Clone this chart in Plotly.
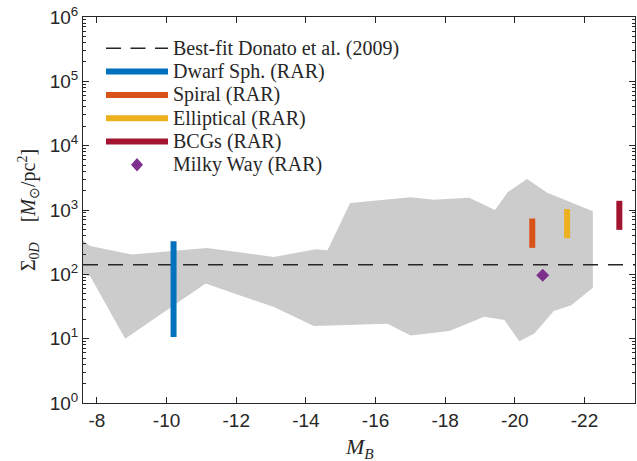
import plotly.graph_objects as go

# Observed central surface density band (upper edge left->right, lower edge right->left)
band_mb_upper = [-7.60, -7.80, -9.00, -11.16, -13.08, -14.28, -14.62, -15.27, -17.01,
                 -17.68, -18.69, -19.43, -19.80, -20.35, -20.93, -22.24]
band_sigma_upper = [339, 275, 204, 257, 186, 245, 237, 1288, 1585,
                    1445, 1549, 1000, 1905, 3020, 1862, 955]
band_mb_lower = [-22.24, -21.62, -21.12, -20.56, -20.13, -19.70, -19.12, -18.12,
                 -17.01, -16.34, -14.23, -13.08, -11.12, -8.81, -7.80, -7.60]
band_sigma_lower = [62, 33, 27, 12, 9.1, 19.5, 21.9, 13.2,
                    11.2, 17, 15.8, 31, 72, 10, 95, 98]

# Best-fit constant surface density (Donato et al. 2009), log10 = 2.15
donato_sigma = 141

# RAR predictions per galaxy type
rar_labels = ["Dwarf Sph. (RAR)", "Spiral (RAR)", "Elliptical (RAR)", "BCGs (RAR)"]
rar_mb = [-10.2, -20.5, -21.5, -23.0]
rar_sigma_low = [10.6, 258, 365, 491]
rar_sigma_high = [327, 738, 1033, 1390]
rar_colors = ["#0072BD", "#D95319", "#EDB120", "#A2142F"]

mw_label = "Milky Way (RAR)"
mw_mb = -20.8
mw_sigma = 97
mw_color = "#7E2F8E"

donato_label = "Best-fit Donato et al. (2009)"

x_ticks = [-8, -10, -12, -14, -16, -18, -20, -22]
y_exponents = [0, 1, 2, 3, 4, 5, 6]
x_range = [-7.6, -23.45]

AX = "#262626"
TICK_FONT = dict(family="Liberation Sans", size=19, color=AX)
SERIF = "Liberation Serif"

# figure geometry
W, H = 637, 461
ML, MR, MT, MB = 83, 2, 17, 58

fig = go.Figure()

# grey band
fig.add_trace(go.Scatter(
    x=band_mb_upper + band_mb_lower,
    y=band_sigma_upper + band_sigma_lower,
    fill="toself", fillcolor="#CCCCCC", mode="lines",
    line=dict(width=0, color="#CCCCCC"), hoverinfo="skip", showlegend=False,
))

# Donato et al. best fit
fig.add_trace(go.Scatter(
    x=x_range, y=[donato_sigma, donato_sigma], mode="lines",
    line=dict(color="#262626", width=1.5, dash="15px,10px"),
    showlegend=False, name=donato_label,
))

# RAR ranges as vertical bars
for lab, xm, lo, hi, col in zip(rar_labels, rar_mb, rar_sigma_low, rar_sigma_high, rar_colors):
    fig.add_trace(go.Scatter(
        x=[xm, xm], y=[lo, hi], mode="lines",
        line=dict(color=col, width=6), showlegend=False, name=lab,
    ))

# Milky Way
fig.add_trace(go.Scatter(
    x=[mw_mb], y=[mw_sigma], mode="markers",
    marker=dict(symbol="diamond", size=10, color=mw_color, line=dict(width=0)),
    showlegend=False, name=mw_label,
))

# ---- legend and x-axis title (placed in figure pixel space) ----
PW, PH = W - ML - MR, H - MT - MB


def px(xp):
    return (xp - ML) / PW


def py(yp):
    return (H - MB - yp) / PH


leg_x0, leg_x1, leg_text_x = 106, 168, 171
leg_y0, leg_dy = 48.3, 23.3

shapes = []
annotations = []
entries = [(donato_label, "#262626", "dash")] + \
          [(lab, col, "bar") for lab, col in zip(rar_labels, rar_colors)] + \
          [(mw_label, mw_color, "diamond")]

for i, (lab, col, kind) in enumerate(entries):
    yy = leg_y0 + i * leg_dy
    if kind == "dash":
        shapes.append(dict(type="line", xref="paper", yref="paper",
                           x0=px(leg_x0), x1=px(leg_x1), y0=py(yy), y1=py(yy),
                           line=dict(color=col, width=1.5, dash="15px,9.5px")))
    elif kind == "bar":
        shapes.append(dict(type="line", xref="paper", yref="paper",
                           x0=px(leg_x0), x1=px(leg_x1), y0=py(yy), y1=py(yy),
                           line=dict(color=col, width=6)))
    else:
        shapes.append(dict(type="path", xref="paper", yref="paper",
                           xsizemode="pixel", ysizemode="pixel",
                           xanchor=px((leg_x0 + leg_x1) / 2), yanchor=py(yy),
                           path="M0,6.8 L6,0 L0,-6.8 L-6,0 Z",
                           fillcolor=col, line=dict(width=0)))
    annotations.append(dict(xref="paper", yref="paper", x=px(leg_text_x), y=py(yy),
                            xanchor="left", yanchor="middle", showarrow=False,
                            text=lab, font=dict(family=SERIF, size=20, color="#262626")))

# x-axis title, sitting close to the bottom edge
annotations.append(dict(xref="paper", yref="paper", x=0.5, y=py(447.5),
                        xanchor="center", yanchor="middle", showarrow=False,
                        text="<i>M</i><sub><i>B</i></sub>",
                        font=dict(family=SERIF, size=22, color=AX)))

fig.update_layout(
    width=W, height=H,
    margin=dict(l=ML, r=MR, t=MT, b=MB, pad=0, autoexpand=False),
    paper_bgcolor="white", plot_bgcolor="white",
    showlegend=False,
    shapes=shapes, annotations=annotations,
    xaxis=dict(
        automargin=False,
        range=x_range, tickvals=x_ticks, ticktext=[str(v) for v in x_ticks],
        ticks="inside", ticklen=6, tickwidth=1, tickcolor=AX,
        showline=True, linecolor=AX, linewidth=1, mirror="ticks",
        showgrid=False, zeroline=False, tickfont=TICK_FONT,
    ),
    yaxis=dict(
        automargin=False,
        type="log", range=[0, 6],
        tickvals=[10 ** e for e in y_exponents],
        ticktext=[f"10<sup>{e}</sup>" for e in y_exponents],
        ticks="inside", ticklen=6, tickwidth=1, tickcolor=AX,
        minor=dict(tickvals=[m * 10 ** e for e in range(6) for m in range(2, 10)],
                   ticks="inside", ticklen=3, tickwidth=1, tickcolor=AX, showgrid=False),
        showline=True, linecolor=AX, linewidth=1, mirror="ticks",
        showgrid=False, zeroline=False, tickfont=TICK_FONT,
        title=dict(text="Σ<sub>0<i>D</i></sub>\u2002\u2002[<i>M</i><sub>⊙</sub>/pc<sup>2</sup>]",
                   font=dict(family=SERIF, size=20, color=AX), standoff=8),
    ),
)

fig.write_html("out.html")
